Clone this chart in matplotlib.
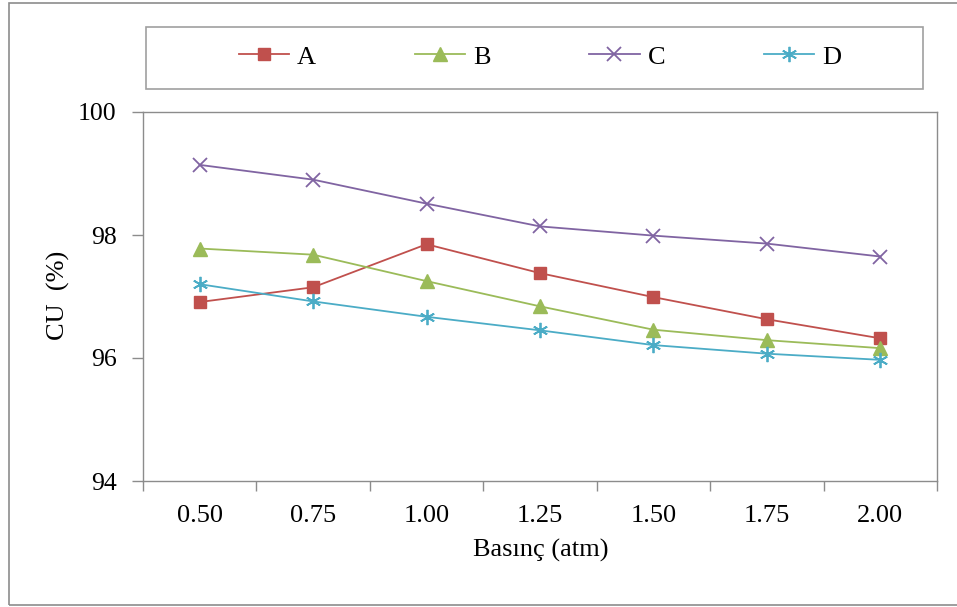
import matplotlib
matplotlib.use('Agg')
import matplotlib.pyplot as plt
from matplotlib.patches import Rectangle
import numpy as np

# Data
pressure = ['0.50', '0.75', '1.00', '1.25', '1.50', '1.75', '2.00']
cu_a = [96.91, 97.15, 97.85, 97.38, 96.99, 96.63, 96.32]
cu_b = [97.78, 97.68, 97.25, 96.84, 96.46, 96.29, 96.16]
cu_c = [99.14, 98.90, 98.51, 98.14, 97.99, 97.86, 97.65]
cu_d = [97.20, 96.92, 96.67, 96.45, 96.21, 96.07, 95.97]
series_names = ['A', 'B', 'C', 'D']
yticks = [94, 96, 98, 100]

plt.rcParams['font.family'] = ['Liberation Serif', 'DejaVu Serif']

W, H = 957, 607
fig = plt.figure(figsize=(W / 100, H / 100), dpi=100)
ax = fig.add_axes([143 / W, 1 - 481 / H, 794 / W, 369 / H])

gray = '#8c8c8c'
styles = [
    dict(color='#C0504D', marker='s', ms=8.5),
    dict(color='#9BBB59', marker='^', ms=9.5),
    dict(color='#8064A2', marker='x', ms=10, mew=1.3),
    dict(color='#4BACC6', marker=(6, 2, 0), ms=11, mew=1.3),
]

x = np.arange(len(pressure))
handles = []
for name, vals, st in zip(series_names, [cu_a, cu_b, cu_c, cu_d], styles):
    h, = ax.plot(x, vals, lw=1.3, label=name, clip_on=False, **st)
    handles.append(h)

ax.set_xlim(-0.5, len(pressure) - 0.5)
ax.set_ylim(94, 100)
ax.set_xticks(x)
ax.set_xticklabels(pressure)
ax.set_xticks(np.arange(-0.5, len(pressure), 1), minor=True)
ax.tick_params(axis='x', which='major', length=0, pad=17, labelsize=19)
ax.tick_params(axis='x', which='minor', length=7, width=1, color=gray, direction='out')
ax.set_yticks(yticks)
ax.tick_params(axis='y', length=8, width=1, color=gray, pad=11, labelsize=18.5)

for sp in ax.spines.values():
    sp.set_color(gray)
    sp.set_linewidth(1)

# axis titles
fig.text(541 / W, 1 - 550 / H, 'Basınç (atm)', ha='center', va='center', fontsize=19)
fig.text(58 / W, 1 - 295 / H, 'CU  (%)', ha='center', va='center', rotation=90, fontsize=19)

# legend box
fig.patches.append(Rectangle((146 / W, 1 - 89 / H), 777 / W, 62 / H, transform=fig.transFigure,
                             fill=False, ec='#a0a0a0', lw=1.2))
fig.legend(handles=handles, loc='center', bbox_to_anchor=(540 / W, 1 - 57 / H), ncol=4,
           frameon=False, fontsize=19, handlelength=1.9, handletextpad=0.3, columnspacing=3.75)

# outer chart frame
fig.patches.append(Rectangle((9 / W, 2 / H), 1.2, 1 - 5 / H, transform=fig.transFigure,
                             fill=False, ec='#8c8c8c', lw=1.2))

fig.savefig('out.png', dpi=100)
